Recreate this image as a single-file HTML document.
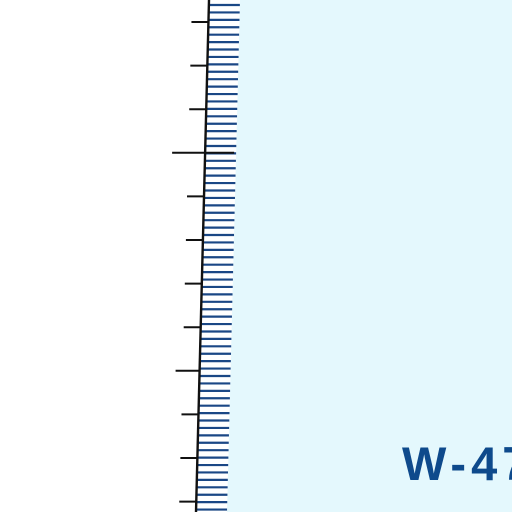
<!DOCTYPE html>
<html><head><meta charset="utf-8"><style>
html,body{margin:0;padding:0;background:#fff;}
svg{display:block}
</style></head><body>
<svg width="512" height="512" viewBox="0 0 512 512">
<polygon points="240,0 512,0 512,512 227,512" fill="#e4f8fd"/>
<g id="hatches"></g>
<g id="ticks"></g>
<line x1="209" y1="0" x2="196" y2="512" stroke="#111" stroke-width="2.4"/>
<text x="402" y="480" font-family="Liberation Sans, sans-serif" font-weight="bold" font-size="47" fill="#0e4a8c" letter-spacing="5">W-47</text>
</svg>
<script>
const tickValues=[0,1,2,3,4,5,6,7,8,9,10,11];
const majorIdx=[3];
const midIdx=[8];
const NS="http://www.w3.org/2000/svg";
function xAt(y){return 209-13*y/512;}
const hg=document.getElementById('hatches');
for(let y=5;y<512;y+=7.42){
  const l=document.createElementNS(NS,'line');
  l.setAttribute('x1',xAt(y));l.setAttribute('x2',xAt(y)+31);
  l.setAttribute('y1',y);l.setAttribute('y2',y);
  l.setAttribute('stroke','#1a4785');l.setAttribute('stroke-width','2.2');
  
  
  hg.appendChild(l);
}
const tg=document.getElementById('ticks');
tickValues.forEach(v=>{
  const y=22+v*43.6;
  const x=xAt(y);
  let x1=x-17,x2=x;
  if(majorIdx.includes(v)){x1=x-33;x2=x+29;}
  else if(midIdx.includes(v)){x1=x-24;}
  const l=document.createElementNS(NS,'line');
  l.setAttribute('x1',x1);l.setAttribute('x2',x2);
  l.setAttribute('y1',y);l.setAttribute('y2',y);
  l.setAttribute('stroke','#111');l.setAttribute('stroke-width','2');
  
  
  tg.appendChild(l);
});
</script>
</body></html>
